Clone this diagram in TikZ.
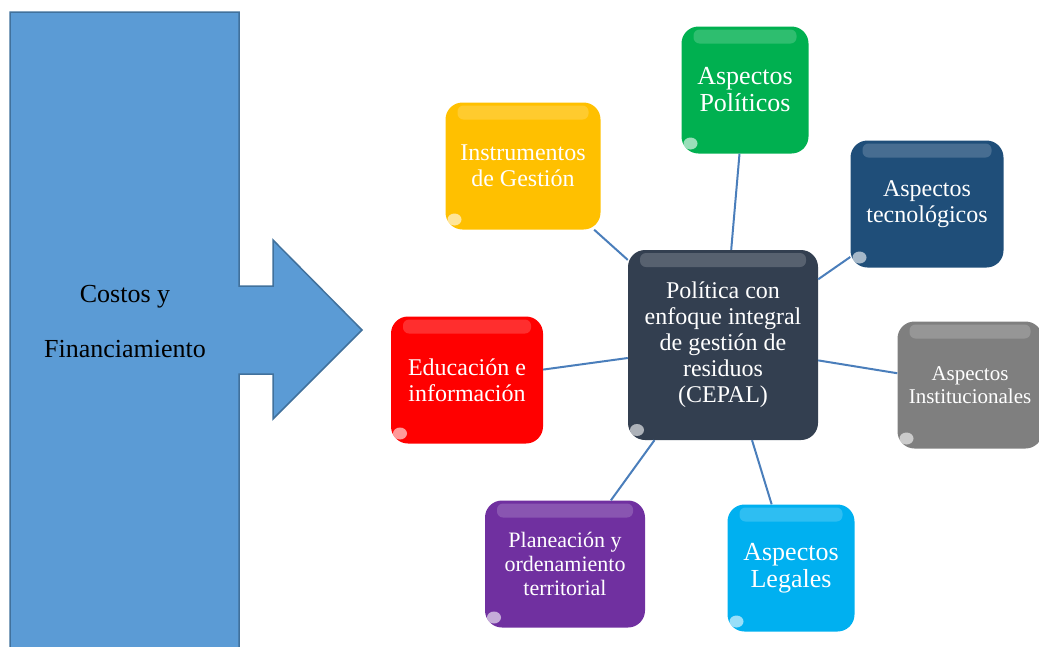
\documentclass[tikz,border=0pt]{standalone}
\usepackage{fontspec}
\setmainfont{Liberation Serif}
\usetikzlibrary{positioning}
\definecolor{arrowfill}{HTML}{5B9BD5}
\definecolor{arrowdraw}{HTML}{41719C}
\definecolor{linkblue}{HTML}{4A7EBB}
\definecolor{yellowbox}{HTML}{FFC000}
\definecolor{greenbox}{HTML}{00B050}
\definecolor{navybox}{HTML}{1F4E79}
\definecolor{graybox}{HTML}{7F7F7F}
\definecolor{cyanbox}{HTML}{00B0F0}
\definecolor{purplebox}{HTML}{7030A0}
\definecolor{redbox}{HTML}{FF0000}
\definecolor{centerbox}{HTML}{333F50}
\tikzset{%
  block/.style={rectangle, rounded corners=17pt, fill=#1, text=white,
    align=center, inner sep=2pt, minimum height=127pt,
    font=\fontsize{24}{26}\selectfont,
    path picture={
      \fill[white,opacity=.18,rounded corners=6pt]
        ([xshift=12pt,yshift=-3pt]path picture bounding box.north west) rectangle
        ([xshift=-12pt,yshift=-17pt]path picture bounding box.north east);
      \fill[white,opacity=.6]
        ([xshift=9pt,yshift=10pt]path picture bounding box.south west)
        circle[x radius=7pt,y radius=6pt];
    }},
  bigtext/.style={font=\fontsize{26}{27}\selectfont},
  midtext/.style={font=\fontsize{22}{24}\selectfont},
  smalltext/.style={font=\fontsize{21}{23}\selectfont},
  line/.style={draw=linkblue, line width=2pt}
}
\begin{document}
\begin{tikzpicture}[x=1pt,y=-1pt]
	\useasboundingbox (0,0) rectangle (1039,646);
	% big arrow on the left
	\draw[fill=arrowfill, draw=arrowdraw, line width=1.5pt]
	  (10,12) -- (239,12) -- (239,286) -- (273,286) -- (273,240) -- (362,330)
	  -- (273,419) -- (273,374) -- (239,374) -- (239,660) -- (10,660) -- cycle;
	\node[align=center, font=\fontsize{26}{55}\selectfont] (costos) at (125,322)
	  {Costos y\\Financiamiento};
	% centre and satellites
	\node[block=centerbox, minimum width=190pt, minimum height=190pt] (cepal) at (723,345)
	  {Política con\\enfoque integral\\de gestión de\\residuos\\(CEPAL)};
	\node[block=yellowbox, minimum width=155pt] (instr) at (523,166) {Instrumentos\\de Gestión};
	\node[block=greenbox, bigtext, minimum width=127pt] (polit) at (745,90) {Aspectos\\Políticos};
	\node[block=navybox, minimum width=153pt] (tecno) at (927,204) {Aspectos\\tecnológicos};
	\node[block=graybox, smalltext, minimum width=145pt] (inst) at (970,385) {Aspectos\\Institucionales};
	\node[block=cyanbox, bigtext, minimum width=127pt] (legal) at (791,568) {Aspectos\\Legales};
	\node[block=purplebox, midtext, minimum width=160pt] (plan) at (565,564) {Planeación y\\ordenamiento\\territorial};
	\node[block=redbox, minimum width=152pt] (edu) at (467,380) {Educación e\\información};
	% links
	\foreach \n in {instr,polit,tecno,inst,legal,plan,edu}
	  \draw[line] (cepal) -- (\n);
\end{tikzpicture}
\end{document}
